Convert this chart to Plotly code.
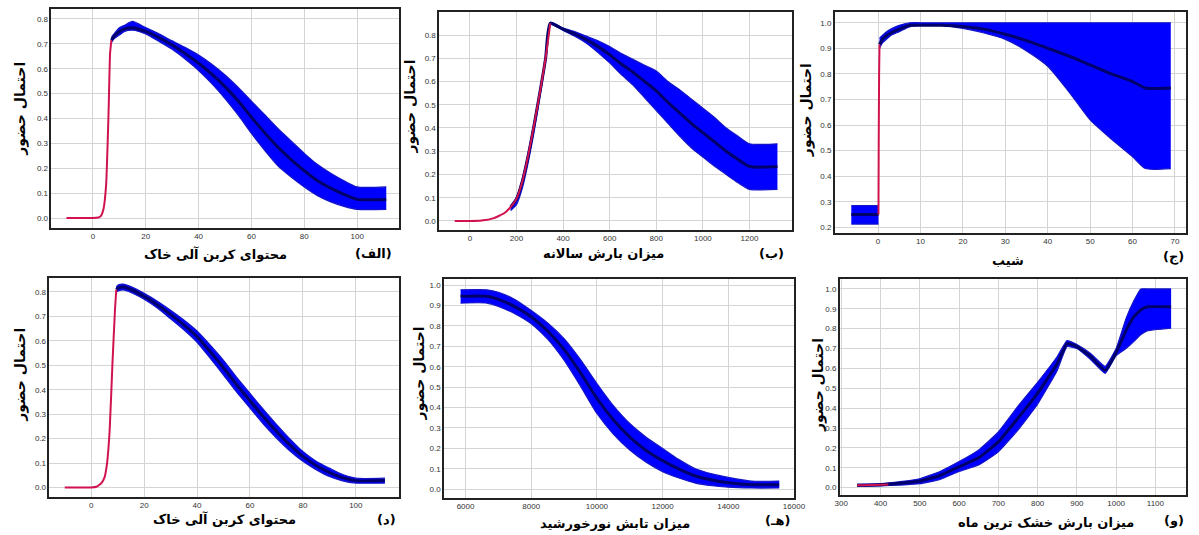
import plotly.graph_objects as go

# ---------------- data ----------------
# Panel (الف) soil organic carbon
p1_red_x = [-10, 0, 2, 3, 4, 5, 5.5, 6, 6.5, 7]
p1_red_y = [0, 0, 0.002, 0.008, 0.035, 0.13, 0.27, 0.45, 0.66, 0.715]
p1_x    = [7, 8, 10, 12, 15, 20, 25, 30, 35, 40, 45, 50, 55, 60, 65, 70, 75, 80, 85, 90, 95, 100, 111]
p1_mean = [0.715, 0.73, 0.75, 0.76, 0.765, 0.75, 0.725, 0.695, 0.66, 0.622, 0.578, 0.528, 0.47, 0.405, 0.343, 0.285, 0.235, 0.19, 0.15, 0.12, 0.095, 0.075, 0.075]
p1_hi   = [0.725, 0.74, 0.765, 0.775, 0.79, 0.765, 0.74, 0.712, 0.685, 0.655, 0.618, 0.575, 0.525, 0.47, 0.415, 0.36, 0.31, 0.26, 0.215, 0.18, 0.15, 0.125, 0.125]
p1_lo   = [0.705, 0.72, 0.735, 0.75, 0.755, 0.74, 0.71, 0.678, 0.638, 0.593, 0.54, 0.48, 0.413, 0.34, 0.272, 0.21, 0.165, 0.125, 0.09, 0.065, 0.047, 0.035, 0.035]

# Panel (ب) annual precipitation
p2_red_x = [-65, 0, 50, 100, 150, 175, 200, 225, 250, 275, 300, 325, 345]
p2_red_y = [0, 0, 0.002, 0.011, 0.035, 0.06, 0.095, 0.17, 0.28, 0.41, 0.55, 0.70, 0.85]
p2_x    = [175, 200, 225, 250, 275, 300, 325, 345, 400, 450, 500, 550, 600, 650, 700, 750, 800, 850, 900, 950, 1000, 1050, 1100, 1150, 1200, 1320]
p2_mean = [0.06, 0.095, 0.17, 0.28, 0.41, 0.55, 0.70, 0.85, 0.825, 0.805, 0.78, 0.75, 0.715, 0.675, 0.64, 0.60, 0.56, 0.51, 0.465, 0.42, 0.38, 0.34, 0.30, 0.265, 0.234, 0.234]
p2_hi   = [0.065, 0.10, 0.18, 0.29, 0.42, 0.555, 0.705, 0.855, 0.83, 0.815, 0.795, 0.775, 0.75, 0.72, 0.695, 0.67, 0.645, 0.60, 0.565, 0.525, 0.485, 0.445, 0.40, 0.365, 0.332, 0.332]
p2_lo   = [0.045, 0.07, 0.14, 0.25, 0.38, 0.53, 0.69, 0.845, 0.82, 0.795, 0.765, 0.725, 0.68, 0.63, 0.585, 0.53, 0.475, 0.42, 0.365, 0.315, 0.275, 0.235, 0.20, 0.165, 0.136, 0.136]

# Panel (ج) slope: flat block below zero, jump at zero, then the curve
p3_left_x    = [-6.3, 0.1]
p3_left_mean = [0.25, 0.25]
p3_left_hi   = [0.285, 0.285]
p3_left_lo   = [0.213, 0.213]
p3_red_x = [0.1, 0.15, 0.25, 0.35]
p3_red_y = [0.25, 0.50, 0.80, 0.915]
p3_x    = [0.35, 1, 2, 3, 5, 7.5, 10, 15, 20, 25, 30, 35, 40, 45, 50, 55, 60, 63, 69]
p3_mean = [0.915, 0.935, 0.95, 0.96, 0.975, 0.99, 0.99, 0.99, 0.985, 0.975, 0.955, 0.93, 0.90, 0.87, 0.835, 0.80, 0.77, 0.745, 0.745]
p3_hi   = [0.94, 0.95, 0.965, 0.975, 0.99, 1.0, 1.0, 1.0, 1.0, 1.0, 1.0, 1.0, 1.0, 1.0, 1.0, 1.0, 1.0, 1.0, 1.0]
p3_lo   = [0.90, 0.92, 0.935, 0.95, 0.965, 0.985, 0.99, 0.99, 0.978, 0.96, 0.935, 0.89, 0.83, 0.73, 0.62, 0.545, 0.476, 0.43, 0.43]

# Panel (د) soil organic carbon
p4_red_x = [-10, 0, 2, 3, 4, 5, 6, 7, 8, 9, 9.5]
p4_red_y = [0, 0, 0.003, 0.01, 0.02, 0.04, 0.1, 0.24, 0.5, 0.73, 0.81]
p4_x    = [9.5, 10, 12, 15, 20, 25, 30, 35, 40, 45, 50, 55, 60, 65, 70, 75, 80, 85, 90, 95, 100, 111]
p4_mean = [0.81, 0.815, 0.82, 0.81, 0.782, 0.748, 0.708, 0.665, 0.617, 0.555, 0.49, 0.42, 0.355, 0.29, 0.23, 0.175, 0.127, 0.09, 0.062, 0.04, 0.028, 0.028]
p4_hi   = [0.82, 0.827, 0.832, 0.822, 0.794, 0.762, 0.725, 0.685, 0.64, 0.582, 0.52, 0.45, 0.385, 0.32, 0.258, 0.2, 0.147, 0.107, 0.079, 0.053, 0.038, 0.038]
p4_lo   = [0.80, 0.803, 0.808, 0.798, 0.77, 0.734, 0.69, 0.645, 0.594, 0.528, 0.46, 0.39, 0.325, 0.26, 0.202, 0.15, 0.107, 0.073, 0.045, 0.027, 0.018, 0.018]

# Panel (هـ) solar radiation
p5_x    = [5850, 6650, 7000, 7500, 8000, 8500, 9000, 9500, 10000, 10500, 11000, 11500, 12000, 12500, 13000, 13500, 14000, 14700, 15550]
p5_mean = [0.945, 0.945, 0.93, 0.895, 0.845, 0.775, 0.685, 0.57, 0.445, 0.34, 0.255, 0.19, 0.14, 0.098, 0.065, 0.045, 0.032, 0.022, 0.022]
p5_hi   = [0.977, 0.977, 0.965, 0.93, 0.876, 0.815, 0.738, 0.635, 0.518, 0.41, 0.322, 0.255, 0.2, 0.145, 0.1, 0.075, 0.058, 0.04, 0.04]
p5_lo   = [0.912, 0.912, 0.895, 0.86, 0.811, 0.735, 0.632, 0.505, 0.371, 0.27, 0.192, 0.132, 0.086, 0.055, 0.03, 0.017, 0.01, 0.006, 0.006]

# Panel (و) precipitation of driest month
p6_red_x = [340, 380, 420]
p6_red_y = [0.012, 0.013, 0.016]
p6_x    = [340, 400, 450, 500, 550, 600, 650, 700, 750, 800, 850, 875, 900, 935, 972, 1000, 1025, 1045, 1063, 1080, 1140]
p6_mean = [0.012, 0.015, 0.022, 0.033, 0.06, 0.105, 0.15, 0.23, 0.35, 0.475, 0.625, 0.725, 0.71, 0.66, 0.59, 0.68, 0.79, 0.86, 0.895, 0.91, 0.91]
p6_hi   = [0.017, 0.02, 0.03, 0.045, 0.08, 0.131, 0.19, 0.28, 0.41, 0.53, 0.66, 0.74, 0.72, 0.675, 0.61, 0.70, 0.85, 0.94, 1.0, 1.0, 1.0]
p6_lo   = [0.007, 0.009, 0.013, 0.02, 0.04, 0.081, 0.114, 0.18, 0.29, 0.42, 0.59, 0.71, 0.70, 0.645, 0.575, 0.665, 0.70, 0.735, 0.77, 0.79, 0.803]

y_title = "احتمال حضور"
x_titles = ["محتوای کربن آلی خاک", "میزان بارش سالانه", "شیب",
            "محتوای کربن آلی خاک", "میزان تابش نورخورشید", "میزان بارش خشک ترین ماه"]
panel_tags = ["(الف)", "(ب)", "(ج)", "(د)", "(هـ)", "(و)"]

x_ticks = [[0, 20, 40, 60, 80, 100],
           [0, 200, 400, 600, 800, 1000, 1200],
           [0, 10, 20, 30, 40, 50, 60, 70],
           [0, 20, 40, 60, 80, 100],
           [6000, 8000, 10000, 12000, 14000, 16000],
           [300, 400, 500, 600, 700, 800, 900, 1000, 1100]]
y_ticks = [[0.0, 0.1, 0.2, 0.3, 0.4, 0.5, 0.6, 0.7, 0.8],
           [0.0, 0.1, 0.2, 0.3, 0.4, 0.5, 0.6, 0.7, 0.8],
           [0.2, 0.3, 0.4, 0.5, 0.6, 0.7, 0.8, 0.9, 1.0],
           [0.0, 0.1, 0.2, 0.3, 0.4, 0.5, 0.6, 0.7, 0.8],
           [0.0, 0.1, 0.2, 0.3, 0.4, 0.5, 0.6, 0.7, 0.8, 0.9, 1.0],
           [0.0, 0.1, 0.2, 0.3, 0.4, 0.5, 0.6, 0.7, 0.8, 0.9, 1.0]]

# ---------------- layout geometry (pixels) ----------------
W, H = 1199, 535
boxes = [(47, 399, 9, 228), (440, 798, 12, 230), (841, 1197, 12, 233),
         (45, 399, 278, 497), (445, 800, 279, 498), (846, 1197, 279, 495)]
x_ranges = [[-15.7, 115.7], [-132, 1384], [-10.2, 72.6],
            [-15.8, 116.2], [5346, 16010], [296, 1178]]
y_ranges = [[-0.04, 0.84], [-0.039, 0.899], [0.178, 1.042],
            [-0.039, 0.857], [-0.043, 1.03], [-0.037, 1.05]]
ytitle_pos = [(15, 109), (411, 107), (812, 110), (15, 375), (420, 373), (824, 385)]
xtitle_pos = [(213, 254), (607, 254), (1017, 260), (222, 519), (618, 523), (1055, 522)]
tag_pos = [(373, 254), (777, 254), (1197, 257), (387, 519), (798, 520), (1197, 520)]
tag_anchor = ["center", "center", "right", "center", "right", "right"]

BAND = "#0000ff"
EDGE = "#1414c8"
MEAN = "#00006a"
RED = "#d0124e"

# each panel: list of band segments (x, mean, hi, lo), red line, smoothing
panels = [
    ([(p1_x, p1_mean, p1_hi, p1_lo)], (p1_red_x, p1_red_y), 0.6),
    ([(p2_x, p2_mean, p2_hi, p2_lo)], (p2_red_x, p2_red_y), 0.6),
    ([(p3_left_x, p3_left_mean, p3_left_hi, p3_left_lo), (p3_x, p3_mean, p3_hi, p3_lo)], (p3_red_x, p3_red_y), 0.6),
    ([(p4_x, p4_mean, p4_hi, p4_lo)], (p4_red_x, p4_red_y), 0.6),
    ([(p5_x, p5_mean, p5_hi, p5_lo)], None, 0.6),
    ([(p6_x, p6_mean, p6_hi, p6_lo)], (p6_red_x, p6_red_y), 0.35),
]

fig = go.Figure()
layout = dict(width=W, height=H, margin=dict(l=0, r=0, t=0, b=0),
              paper_bgcolor="white", plot_bgcolor="white", showlegend=False)
annotations = []
AR_FONT = "DejaVu Sans"

for i, (segments, red, sm) in enumerate(panels):
    n = i + 1
    xa = "x" if n == 1 else f"x{n}"
    ya = "y" if n == 1 else f"y{n}"
    for (x, m, hi, lo) in segments:
        fig.add_trace(go.Scatter(x=x, y=hi, mode="lines",
                                 line=dict(color=EDGE, width=1.2, shape="spline", smoothing=sm),
                                 xaxis=xa, yaxis=ya, hoverinfo="skip"))
        fig.add_trace(go.Scatter(x=x, y=lo, mode="lines", fill="tonexty", fillcolor=BAND,
                                 line=dict(color=EDGE, width=1.2, shape="spline", smoothing=sm),
                                 xaxis=xa, yaxis=ya, hoverinfo="skip"))
        fig.add_trace(go.Scatter(x=x, y=m, mode="lines",
                                 line=dict(color=MEAN, width=3, shape="spline", smoothing=sm),
                                 xaxis=xa, yaxis=ya))
    if red is not None:
        fig.add_trace(go.Scatter(x=red[0], y=red[1], mode="lines",
                                 line=dict(color=RED, width=2, shape="spline", smoothing=0.5),
                                 xaxis=xa, yaxis=ya))
    x0, x1, y0, y1 = boxes[i]
    axis_common = dict(showgrid=True, gridcolor="#d4d4d4", gridwidth=1, zeroline=False,
                       showline=True, mirror=True, linecolor="#222", linewidth=1.5,
                       ticks="", tickfont=dict(family="Liberation Sans", size=8, color="#333"))
    layout["xaxis" if n == 1 else f"xaxis{n}"] = dict(
        domain=[x0 / W, x1 / W], range=x_ranges[i], anchor=ya,
        tickmode="array", tickvals=x_ticks[i], ticktext=[str(v) for v in x_ticks[i]],
        **axis_common)
    layout["yaxis" if n == 1 else f"yaxis{n}"] = dict(
        domain=[1 - y1 / H, 1 - y0 / H], range=y_ranges[i], anchor=xa,
        tickmode="array", tickvals=y_ticks[i], ticktext=[f"{v:.1f}" for v in y_ticks[i]],
        **axis_common)

    tx, ty = ytitle_pos[i]
    annotations.append(dict(text=f"<b>{y_title}</b>", x=tx / W, y=1 - ty / H, xref="paper", yref="paper",
                            showarrow=False, textangle=-90, xanchor="center", yanchor="middle",
                            font=dict(family=AR_FONT, size=14, color="black")))
    tx, ty = xtitle_pos[i]
    annotations.append(dict(text=f"<b>{x_titles[i]}</b>", x=tx / W, y=1 - ty / H, xref="paper", yref="paper",
                            showarrow=False, xanchor="center", yanchor="middle",
                            font=dict(family=AR_FONT, size=13, color="black")))
    tx, ty = tag_pos[i]
    annotations.append(dict(text=f"<b>{panel_tags[i]}</b>", x=tx / W, y=1 - ty / H, xref="paper", yref="paper",
                            showarrow=False, xanchor=tag_anchor[i], yanchor="middle",
                            font=dict(family=AR_FONT, size=13, color="black")))

layout["annotations"] = annotations
fig.update_layout(**layout)
fig.write_html("out.html", config={"displayModeBar": False},
               post_script="document.body.style.margin='0';document.body.style.padding='0';"
                           "document.documentElement.style.overflow='hidden';")
